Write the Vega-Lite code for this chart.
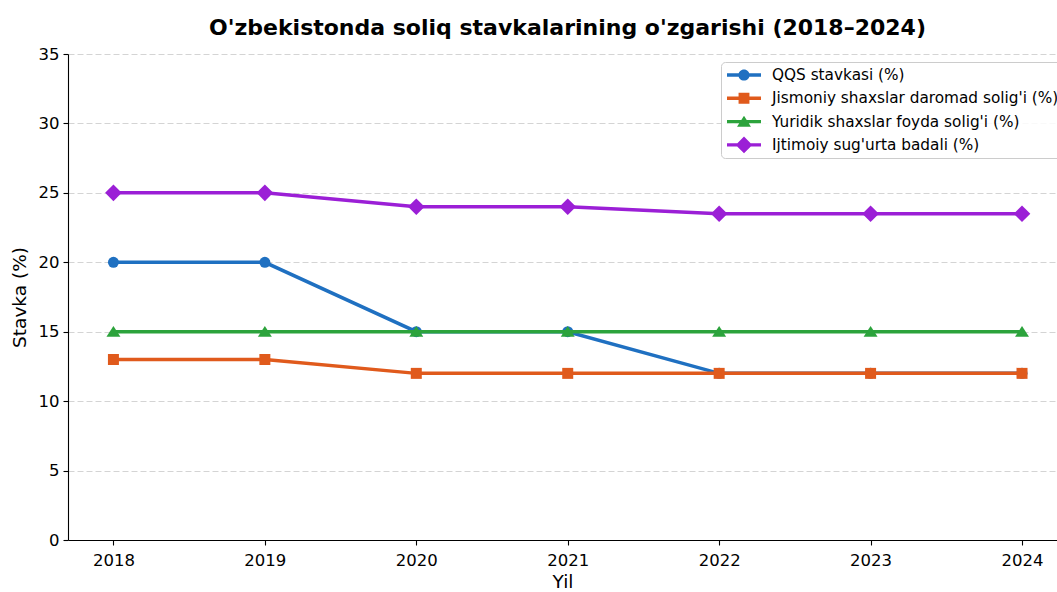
{
  "$schema": "https://vega.github.io/schema/vega-lite/v6.json",
  "width": 989,
  "height": 486,
  "autosize": {"type": "none"},
  "padding": {"left": 68, "top": 54, "right": 0, "bottom": 52},
  "background": "white",
  "config": {
    "font": "DejaVu Sans",
    "view": {"stroke": null},
    "axis": {
      "domainColor": "#000000",
      "domainWidth": 1.1,
      "tickColor": "#000000",
      "tickSize": 5,
      "tickWidth": 1.1,
      "labelColor": "#000000",
      "titleColor": "#000000",
      "labelFontSize": 16.5,
      "titleFontSize": 18.5,
      "titleFontWeight": "normal",
      "labelPadding": 4
    }
  },
  "title": {
    "text": "O'zbekistonda soliq stavkalarining o'zgarishi (2018–2024)",
    "fontSize": 22,
    "fontWeight": "bold",
    "color": "#000000",
    "anchor": "middle",
    "offset": 6,
    "dx": 5
  },
  "data": {
    "values": [
      {"year": 2018, "series": "QQS stavkasi (%)", "value": 20},
      {"year": 2019, "series": "QQS stavkasi (%)", "value": 20},
      {"year": 2020, "series": "QQS stavkasi (%)", "value": 15},
      {"year": 2021, "series": "QQS stavkasi (%)", "value": 15},
      {"year": 2022, "series": "QQS stavkasi (%)", "value": 12},
      {"year": 2023, "series": "QQS stavkasi (%)", "value": 12},
      {"year": 2024, "series": "QQS stavkasi (%)", "value": 12},
      {"year": 2018, "series": "Jismoniy shaxslar daromad solig'i (%)", "value": 13},
      {"year": 2019, "series": "Jismoniy shaxslar daromad solig'i (%)", "value": 13},
      {"year": 2020, "series": "Jismoniy shaxslar daromad solig'i (%)", "value": 12},
      {"year": 2021, "series": "Jismoniy shaxslar daromad solig'i (%)", "value": 12},
      {"year": 2022, "series": "Jismoniy shaxslar daromad solig'i (%)", "value": 12},
      {"year": 2023, "series": "Jismoniy shaxslar daromad solig'i (%)", "value": 12},
      {"year": 2024, "series": "Jismoniy shaxslar daromad solig'i (%)", "value": 12},
      {"year": 2018, "series": "Yuridik shaxslar foyda solig'i (%)", "value": 15},
      {"year": 2019, "series": "Yuridik shaxslar foyda solig'i (%)", "value": 15},
      {"year": 2020, "series": "Yuridik shaxslar foyda solig'i (%)", "value": 15},
      {"year": 2021, "series": "Yuridik shaxslar foyda solig'i (%)", "value": 15},
      {"year": 2022, "series": "Yuridik shaxslar foyda solig'i (%)", "value": 15},
      {"year": 2023, "series": "Yuridik shaxslar foyda solig'i (%)", "value": 15},
      {"year": 2024, "series": "Yuridik shaxslar foyda solig'i (%)", "value": 15},
      {"year": 2018, "series": "Ijtimoiy sug'urta badali (%)", "value": 25},
      {"year": 2019, "series": "Ijtimoiy sug'urta badali (%)", "value": 25},
      {"year": 2020, "series": "Ijtimoiy sug'urta badali (%)", "value": 24},
      {"year": 2021, "series": "Ijtimoiy sug'urta badali (%)", "value": 24},
      {"year": 2022, "series": "Ijtimoiy sug'urta badali (%)", "value": 23.5},
      {"year": 2023, "series": "Ijtimoiy sug'urta badali (%)", "value": 23.5},
      {"year": 2024, "series": "Ijtimoiy sug'urta badali (%)", "value": 23.5}
    ]
  },
  "encoding": {
    "x": {
      "field": "year",
      "type": "quantitative",
      "title": "Yil",
      "scale": {"domain": [2017.7, 2024.231], "nice": false, "zero": false},
      "axis": {"values": [2018, 2019, 2020, 2021, 2022, 2023, 2024], "format": "d", "grid": false, "labelFlush": false, "labelPadding": 7, "titlePadding": 4}
    },
    "y": {
      "field": "value",
      "type": "quantitative",
      "title": "Stavka (%)",
      "scale": {"domain": [0, 35], "nice": false},
      "axis": {"values": [0, 5, 10, 15, 20, 25, 30, 35], "grid": true, "gridColor": "#d4d4d4", "gridDash": [6, 3], "gridWidth": 1, "titlePadding": 9}
    },
    "color": {
      "field": "series",
      "type": "nominal",
      "scale": {
        "domain": ["QQS stavkasi (%)", "Jismoniy shaxslar daromad solig'i (%)", "Yuridik shaxslar foyda solig'i (%)", "Ijtimoiy sug'urta badali (%)"],
        "range": ["#1f70c1", "#e05a1c", "#2ca33c", "#9b1fd6"]
      },
      "legend": {
        "title": null,
        "orient": "none",
        "legendX": 653,
        "legendY": 8,
        "labelFontSize": 15.3,
        "labelColor": "#000000",
        "labelLimit": 0,
        "symbolSize": 1156,
        "symbolOpacity": 1,
        "symbolStrokeWidth": 0,
        "symbolOffset": 2,
        "labelOffset": 11,
        "clipHeight": 18,
        "rowPadding": 5.3,
        "padding": 4,
        "fillColor": "rgba(255,255,255,0.85)",
        "strokeColor": "#cccccc",
        "cornerRadius": 4,
        "encode": {
          "symbols": {
            "update": {
              "fill": {"scale": "color", "field": "value"},
              "stroke": {"value": "transparent"},
              "opacity": {"value": 1},
              "shape": {
                "signal": "datum.value === 'QQS stavkasi (%)' ? 'M-1,-0.1H1V0.1H-1Z M0.33,0A0.33,0.33,0,1,1,-0.33,0A0.33,0.33,0,1,1,0.33,0Z' : datum.value === 'Ijtimoiy sug\\'urta badali (%)' ? 'M-1,-0.1H1V0.1H-1Z M0,-0.49L0.49,0L0,0.49L-0.49,0Z' : datum.value === 'Yuridik shaxslar foyda solig\\'i (%)' ? 'M-1,-0.1H1V0.1H-1Z M0,-0.34L0.41,0.3L-0.41,0.3Z' : 'M-1,-0.1H1V0.1H-1Z M-0.32,-0.32H0.32V0.32H-0.32Z'"
              }
            }
          }
        }
      }
    }
  },
  "layer": [
    {
      "transform": [{"filter": "datum.series === 'QQS stavkasi (%)'"}],
      "mark": {"type": "line", "strokeWidth": 3.5}
    },
    {
      "transform": [{"filter": "datum.series === 'QQS stavkasi (%)'"}],
      "mark": {"type": "point", "filled": true, "opacity": 1, "size": 121, "strokeWidth": 0, "shape": "circle"},
      "encoding": {"color": {"value": "#1f70c1"}}
    },
    {
      "transform": [{"filter": "datum.series === 'Jismoniy shaxslar daromad solig\\'i (%)'"}],
      "mark": {"type": "line", "strokeWidth": 3.5}
    },
    {
      "transform": [{"filter": "datum.series === 'Jismoniy shaxslar daromad solig\\'i (%)'"}],
      "mark": {"type": "point", "filled": true, "opacity": 1, "size": 121, "strokeWidth": 0, "shape": "square"},
      "encoding": {"color": {"value": "#e05a1c"}}
    },
    {
      "transform": [{"filter": "datum.series === 'Yuridik shaxslar foyda solig\\'i (%)'"}],
      "mark": {"type": "line", "strokeWidth": 3.5}
    },
    {
      "transform": [{"filter": "datum.series === 'Yuridik shaxslar foyda solig\\'i (%)'"}],
      "mark": {"type": "point", "filled": true, "opacity": 1, "size": 121, "strokeWidth": 0, "shape": "M0,-1.05L1.27,0.92L-1.27,0.92Z"},
      "encoding": {"color": {"value": "#2ca33c"}}
    },
    {
      "transform": [{"filter": "datum.series === 'Ijtimoiy sug\\'urta badali (%)'"}],
      "mark": {"type": "line", "strokeWidth": 3.5}
    },
    {
      "transform": [{"filter": "datum.series === 'Ijtimoiy sug\\'urta badali (%)'"}],
      "mark": {"type": "point", "filled": true, "opacity": 1, "size": 121, "strokeWidth": 0, "shape": "M0,-1.51L1.51,0L0,1.51L-1.51,0Z"},
      "encoding": {"color": {"value": "#9b1fd6"}}
    }
  ]
}
